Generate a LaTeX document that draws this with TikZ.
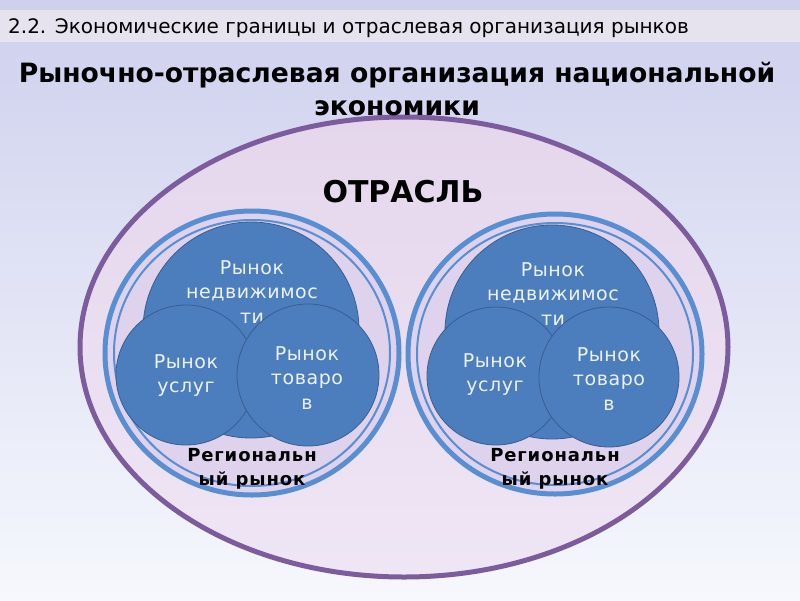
\documentclass[tikz,border=0pt]{standalone}
\usepackage{fontspec}
\setmainfont{DejaVu Sans}
\newfontfamily\mktfont[LetterSpace=3]{DejaVu Sans}
\newfontfamily\regfont[LetterSpace=5]{DejaVu Sans}
\usetikzlibrary{shapes}
\definecolor{bgt}{RGB}{206,208,238}
\definecolor{bgb}{RGB}{246,248,253}
\definecolor{bar}{RGB}{230,227,238}
\definecolor{ot}{RGB}{229,214,236}
\definecolor{ob}{RGB}{239,230,245}
\definecolor{od}{RGB}{124,92,156}
\definecolor{rg}{RGB}{88,142,210}
\definecolor{rf}{RGB}{222,210,236}
\definecolor{mf}{RGB}{76,125,188}
\definecolor{mb}{RGB}{56,94,146}
\definecolor{mt}{RGB}{236,242,250}
\tikzstyle{ring}=[ellipse,draw=rg,line width=5pt,fill=rf,inner sep=0pt]
\tikzstyle{iring}=[ellipse,draw=rg,line width=2pt,inner sep=0pt]
\tikzstyle{mkt}=[circle,draw=mb,fill=mf,line width=.8pt,inner sep=0pt]
\tikzstyle{mtxt}=[text=mt,font=\mktfont\fontsize{19}{24.5}\selectfont,align=center,inner sep=0pt]
\tikzstyle{rtxt}=[font=\regfont\bfseries\fontsize{18}{24}\selectfont,align=center,inner sep=0pt]

\begin{document}
\begin{tikzpicture}[x=1pt,y=-1pt]
	\useasboundingbox (0,0) rectangle (800,600);
	\fill[top color=bgt,bottom color=bgb] (0,0) rectangle (800,600);
	\fill[bar] (0,10) rectangle (800,42);
	\node[anchor=base west,inner sep=0pt,font=\fontsize{20}{24}\selectfont] (sect) at (8,33) {2.2. Экономические границы и отраслевая организация рынков};
	\node[ellipse,draw=od,line width=5pt,top color=ot,bottom color=ob,minimum width=648pt,minimum height=460pt,inner sep=0pt] (otr) at (404,347) {};
	\node[align=center,inner sep=0pt,font=\bfseries\fontsize{26.6}{33}\selectfont] (ttl) at (397,89) {Рыночно-отраслевая организация национальной\\экономики};
	\node[inner sep=0pt,font=\bfseries\fontsize{30}{36}\selectfont] (otrl) at (403,192) {ОТРАСЛЬ};
	% left regional market
	\node[ring,minimum width=294pt,minimum height=284pt] (rega) at (252,353) {};
	\node[iring,minimum width=276pt,minimum height=266pt] (irega) at (252,353) {};
	\node[mkt,minimum size=216pt] (nda) at (251,330) {};
	\node[mtxt] (tnda) at (252,292) {Рынок\\недвижимос\\ти};
	\node[mkt,minimum size=140pt] (usa) at (186,375) {};
	\node[mkt,minimum size=142pt] (tva) at (308,375) {};
	\node[mtxt] (tusa) at (186,375.5) {Рынок\\услуг};
	\node[mtxt] (ttva) at (307,378) {Рынок\\товаро\\в};
	\node[rtxt] (rta) at (252,469) {Региональн\\ый рынок};
	% right regional market
	\node[ring,minimum width=294pt,minimum height=280pt] (regb) at (555,354) {};
	\node[iring,minimum width=276pt,minimum height=262pt] (iregb) at (555,354) {};
	\node[mkt,minimum size=214pt] (ndb) at (552,332) {};
	\node[mtxt] (tndb) at (553,294) {Рынок\\недвижимос\\ти};
	\node[mkt,minimum size=138pt] (usb) at (496,376) {};
	\node[mkt,minimum size=140pt] (tvb) at (609,377) {};
	\node[mtxt] (tusb) at (495,374.5) {Рынок\\услуг};
	\node[mtxt] (ttvb) at (609,379) {Рынок\\товаро\\в};
	\node[rtxt] (rtb) at (555,469) {Региональн\\ый рынок};
\end{tikzpicture}
\end{document}
